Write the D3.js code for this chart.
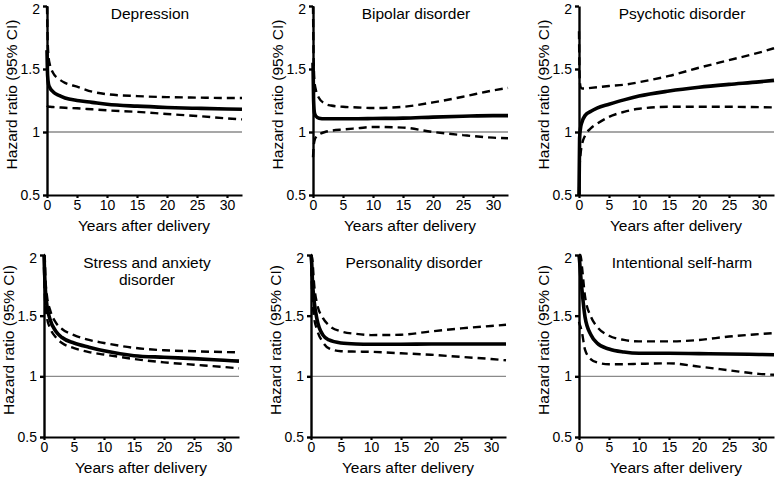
<!DOCTYPE html>
<html>
  <head>
    <meta charset="utf-8">
    <title>Hazard ratios by years after delivery</title>
    <style media="screen">
      body { margin: 0; background-color: #fff; }
      text { font-family: "Liberation Sans", Arial, sans-serif; fill: #000; }
      g.axis text { font-size: 14px; }
      g.axis path, g.axis line { stroke: #000; }
      text.panelTitle { font-size: 15.5px; }
      text.axisTitle { font-size: 15.5px; }
      text.yTitle { font-size: 15.5px; }
    </style>
  </head>
  <body>
    <svg id="svg1" width="777" height="479"></svg>

    <script type="text/javascript" src="https://cdnjs.cloudflare.com/ajax/libs/d3/7.8.5/d3.min.js"></script>
    <script type="text/javascript">
      var years = [0, 0.1, 0.25, 0.5, 1, 2, 3, 5, 7.5, 10, 15, 20, 25, 30, 32.5];

      var xTicks = [0, 5, 10, 15, 20, 25, 30];
      var yTicks = [0.5, 1, 1.5, 2];

      var titles = [
        ["Depression"],
        ["Bipolar disorder"],
        ["Psychotic disorder"],
        ["Stress and anxiety", "disorder"],
        ["Personality disorder"],
        ["Intentional self-harm"]
      ];

      // Hazard ratio (solid) per panel
      var depressionHR  = [1.65, 1.45, 1.38, 1.35, 1.32, 1.29, 1.27, 1.25, 1.235, 1.22, 1.205, 1.195, 1.188, 1.182, 1.18];
      var bipolarHR     = [1.55, 1.25, 1.15, 1.125, 1.11, 1.105, 1.105, 1.105, 1.105, 1.107, 1.11, 1.118, 1.125, 1.13, 1.13];
      var psychoticHR   = [0.5, 0.95, 1.03, 1.08, 1.13, 1.165, 1.19, 1.22, 1.255, 1.285, 1.325, 1.355, 1.378, 1.398, 1.41];
      var stressHR      = [2.0, 1.85, 1.7, 1.58, 1.47, 1.37, 1.32, 1.275, 1.24, 1.21, 1.17, 1.157, 1.146, 1.132, 1.125];
      var personalityHR = [2.0, 1.95, 1.78, 1.63, 1.47, 1.34, 1.3, 1.275, 1.267, 1.265, 1.265, 1.266, 1.266, 1.266, 1.267];
      var selfHarmHR    = [2.0, 1.95, 1.85, 1.71, 1.49, 1.34, 1.275, 1.225, 1.2, 1.19, 1.19, 1.187, 1.184, 1.18, 1.178];

      // Upper 95% CI (dashed)
      var depressionHi  = [2.0, 1.75, 1.6, 1.53, 1.47, 1.42, 1.39, 1.36, 1.32, 1.3, 1.285, 1.277, 1.273, 1.27, 1.27];
      var bipolarHi     = [2.0, 1.6, 1.4, 1.33, 1.27, 1.225, 1.21, 1.2, 1.195, 1.19, 1.2, 1.235, 1.28, 1.33, 1.35];
      var psychoticHi   = [1.8, 1.45, 1.36, 1.345, 1.345, 1.35, 1.355, 1.365, 1.375, 1.395, 1.445, 1.51, 1.57, 1.63, 1.665];
      var stressHi      = [2.0, 2.0, 1.8, 1.66, 1.55, 1.44, 1.39, 1.34, 1.3, 1.275, 1.235, 1.215, 1.207, 1.2, 1.198];
      var personalityHi = [2.0, 2.0, 1.95, 1.77, 1.6, 1.48, 1.42, 1.37, 1.35, 1.34, 1.343, 1.37, 1.395, 1.415, 1.425];
      var selfHarmHi    = [2.0, 2.0, 2.0, 1.9, 1.66, 1.49, 1.41, 1.335, 1.3, 1.288, 1.288, 1.3, 1.328, 1.348, 1.357];

      // Lower 95% CI (dashed)
      var depressionLo  = [1.21, 1.205, 1.2, 1.2, 1.198, 1.195, 1.192, 1.188, 1.18, 1.172, 1.16, 1.143, 1.127, 1.108, 1.1];
      var bipolarLo     = [0.8, 0.88, 0.93, 0.96, 0.98, 1.0, 1.01, 1.02, 1.03, 1.04, 1.035, 1.0, 0.975, 0.955, 0.95];
      var psychoticLo   = [0.5, 0.72, 0.82, 0.9, 0.97, 1.03, 1.065, 1.12, 1.16, 1.185, 1.2, 1.2, 1.2, 1.197, 1.195];
      var stressLo      = [1.9, 1.7, 1.58, 1.48, 1.4, 1.32, 1.275, 1.233, 1.2, 1.18, 1.143, 1.115, 1.096, 1.077, 1.066];
      var personalityLo = [2.0, 1.8, 1.62, 1.49, 1.385, 1.28, 1.23, 1.207, 1.204, 1.202, 1.19, 1.178, 1.16, 1.143, 1.132];
      var selfHarmLo    = [1.45, 1.43, 1.41, 1.36, 1.22, 1.14, 1.115, 1.1, 1.1, 1.103, 1.107, 1.08, 1.05, 1.02, 1.013];

      var hrSeries = [depressionHR, bipolarHR, psychoticHR, stressHR, personalityHR, selfHarmHR];
      var hiSeries = [depressionHi, bipolarHi, psychoticHi, stressHi, personalityHi, selfHarmHi];
      var loSeries = [depressionLo, bipolarLo, psychoticLo, stressLo, personalityLo, selfHarmLo];

      // Panel placement: left = y axis position, top/bottom = pixel rows of 2 and 0.5
      var colLeft = [[47, 313, 579], [44, 311, 579]];
      var rowTop = [6, 255];
      var rowBottom = [195, 437];
      var plotWidth = 195;

      var svg = d3.select("#svg1");

      titles.forEach(function(title, i) {
        var row = Math.floor(i / 3), col = i % 3;
        var left = colLeft[row][col];
        var top = rowTop[row], bottom = rowBottom[row];

        var x = d3.scaleLinear()
          .domain([0, 32.5])
          .range([left, left + plotWidth]);

        var y = d3.scaleLinear()
          .domain([0.5, 2])
          .range([bottom, top]);

        var g = svg.append("g").attr("class", "panel");

        // Reference line at HR = 1
        g.append("line")
          .attr("x1", x(0)).attr("x2", x(32.5))
          .attr("y1", y(1)).attr("y2", y(1))
          .attr("stroke", "#8a8a8a")
          .attr("stroke-width", 1.4);

        var line = d3.line()
          .x(function(d, j) { return x(years[j]); })
          .y(function(d) { return y(d); })
          .curve(d3.curveMonotoneX);

        // CI lines
        [hiSeries[i], loSeries[i]].forEach(function(s) {
          g.append("path")
            .datum(s)
            .attr("d", line)
            .attr("fill", "none")
            .attr("stroke", "#000")
            .attr("stroke-width", 2.4)
            .attr("stroke-dasharray", "8,5");
        });

        // Hazard ratio
        g.append("path")
          .datum(hrSeries[i])
          .attr("d", line)
          .attr("fill", "none")
          .attr("stroke", "#000")
          .attr("stroke-width", 3.6);

        // Axes
        var yAxis = g.append("g")
          .attr("class", "axis")
          .attr("transform", "translate(" + left + ",0)")
          .call(d3.axisLeft(y).tickValues(yTicks).tickSize(4).tickSizeOuter(0).tickPadding(3)
            .tickFormat(function(d) { return String(d); }));

        // keep the "2" label inside the picture
        yAxis.selectAll(".tick text")
          .filter(function(d) { return d === 2; })
          .attr("dy", "0.5em");

        var xAxis = g.append("g")
          .attr("class", "axis")
          .attr("transform", "translate(0," + bottom + ")")
          .call(d3.axisBottom(x).tickValues(xTicks).tickSize(3).tickSizeOuter(0).tickPadding(2));

        yAxis.selectAll("path, line").attr("stroke-width", 2.4);
        xAxis.selectAll("path, line").attr("stroke-width", 2.2);

        // Axis titles
        g.append("text")
          .classed("axisTitle", true)
          .attr("text-anchor", "middle")
          .attr("x", left + 97)
          .attr("y", bottom + 36)
          .text("Years after delivery");

        g.append("text")
          .classed("yTitle", true)
          .attr("text-anchor", "middle")
          .attr("transform", "translate(" + (left - 30) + "," + ((top + bottom) / 2 - 6) + ") rotate(-90)")
          .text("Hazard ratio (95% CI)");

        // Panel title
        title.forEach(function(t, k) {
          g.append("text")
            .classed("panelTitle", true)
            .attr("text-anchor", "middle")
            .attr("x", left + 103)
            .attr("y", top + 13 + k * 17)
            .text(t);
        });
      });
    </script>
  </body>
</html>
